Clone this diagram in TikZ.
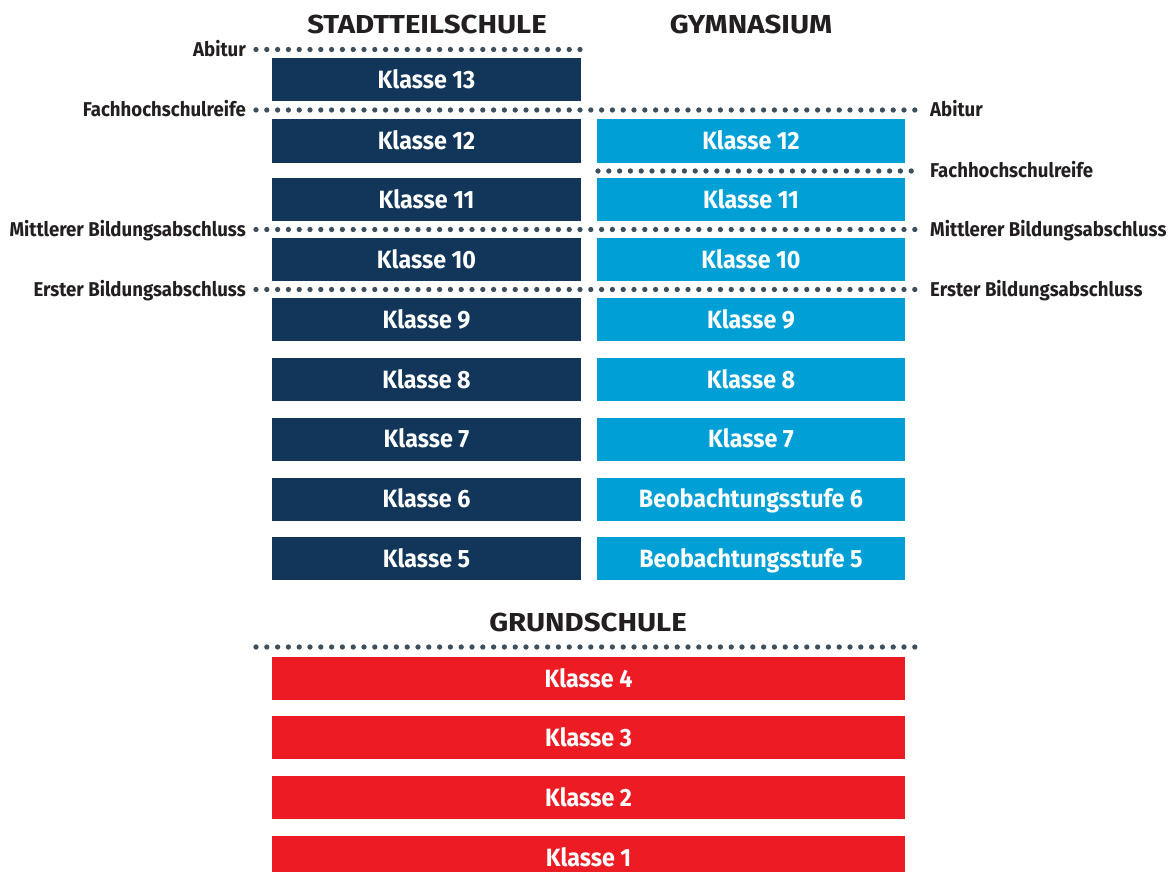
\documentclass[tikz,border=0pt]{standalone}
\usepackage{fontspec}
\setmainfont{Fira Sans}[FakeStretch=0.93]
\newfontfamily\headfont{Fira Sans}[FakeStretch=1.13]
\definecolor{navy}{HTML}{12365A}
\definecolor{sky}{HTML}{00A0D6}
\definecolor{rred}{HTML}{ED1C24}
\definecolor{dotc}{HTML}{3D4F5C}
\definecolor{headc}{HTML}{231F20}
\tikzset{
  box/.style={rectangle, inner sep=0pt, minimum height=43pt, text height=17.5pt, text depth=0pt, text=white, font=\fontsize{25}{26}\selectfont\bfseries},
  lbox/.style={box, fill=navy, minimum width=309pt},
  rbox/.style={box, fill=sky, minimum width=308pt},
  gbox/.style={box, fill=rred, minimum width=633pt},
  dotline/.style={draw=dotc, line width=5.3pt, line cap=round, dash pattern=on 0pt off 10.8pt},
  lab/.style={inner sep=0pt, text height=13.8pt, text depth=0pt, text=headc, font=\fontsize{20}{21}\selectfont\bfseries},
  head/.style={inner sep=0pt, text=headc, font=\headfont\fontsize{26}{28}\selectfont\bfseries}
}
\begin{document}
\begin{tikzpicture}[x=1pt,y=-1pt]
\useasboundingbox (0,0) rectangle (1175,872);
% headers
\node[head] (hst) at (427,24) {STADTTEILSCHULE};
\node[head] (hgy) at (751,24) {GYMNASIUM};
\node[head] (hgs) at (588,622) {GRUNDSCHULE};
% left column
\node[lbox] (s13) at (426.5,79.5) {Klasse 13};
\node[lbox] (s12) at (426.5,141) {Klasse 12};
\node[lbox] (s11) at (426.5,199.5) {Klasse 11};
\node[lbox] (s10) at (426.5,259.5) {Klasse 10};
\node[lbox] (s9) at (426.5,319.5) {Klasse 9};
\node[lbox] (s8) at (426.5,379.5) {Klasse 8};
\node[lbox] (s7) at (426.5,439) {Klasse 7};
\node[lbox] (s6) at (426.5,499) {Klasse 6};
\node[lbox] (s5) at (426.5,558.5) {Klasse 5};
% right column
\node[rbox] (g12) at (751,141) {Klasse 12};
\node[rbox] (g11) at (751,199.5) {Klasse 11};
\node[rbox] (g10) at (751,259.5) {Klasse 10};
\node[rbox] (g9) at (751,319.5) {Klasse 9};
\node[rbox] (g8) at (751,379.5) {Klasse 8};
\node[rbox] (g7) at (751,439) {Klasse 7};
\node[rbox] (g6) at (751,499) {Beobachtungsstufe 6};
\node[rbox] (g5) at (751,558.5) {Beobachtungsstufe 5};
% grundschule
\node[gbox] (k4) at (588.5,678.5) {Klasse 4};
\node[gbox] (k3) at (588.5,737.5) {Klasse 3};
\node[gbox] (k2) at (588.5,797.5) {Klasse 2};
\node[gbox] (k1) at (588.5,857.5) {Klasse 1};
% labels
\node[lab, anchor=east] (lab1) at (246,49.5) {Abitur};
\node[lab, anchor=east] (lfh) at (246,110) {Fachhochschulreife};
\node[lab, anchor=east] (lmb) at (246,229.5) {Mittlerer Bildungsabschluss};
\node[lab, anchor=east] (leb) at (246,289.5) {Erster Bildungsabschluss};
\node[lab, anchor=west] (rab) at (930,110) {Abitur};
\node[lab, anchor=west] (rfh) at (930,171) {Fachhochschulreife};
\node[lab, anchor=west] (rmb) at (930,229.5) {Mittlerer Bildungsabschluss};
\node[lab, anchor=west] (reb) at (930,289.5) {Erster Bildungsabschluss};
% dotted lines
\coordinate (a1) at (256,49.5); \coordinate (a2) at (580,49.5);
\coordinate (f1) at (256,110); \coordinate (f2) at (921,110);
\coordinate (h1) at (598,171); \coordinate (h2) at (921,171);
\coordinate (m1) at (256,229.5); \coordinate (m2) at (921,229.5);
\coordinate (e1) at (256,289.5); \coordinate (e2) at (921,289.5);
\coordinate (q1) at (256,647); \coordinate (q2) at (921,647);
\draw[dotline] (a1) -- (a2);
\draw[dotline] (f1) -- (f2);
\draw[dotline] (h1) -- (h2);
\draw[dotline] (m1) -- (m2);
\draw[dotline] (e1) -- (e2);
\draw[dotline] (q1) -- (q2);
\end{tikzpicture}
\end{document}
